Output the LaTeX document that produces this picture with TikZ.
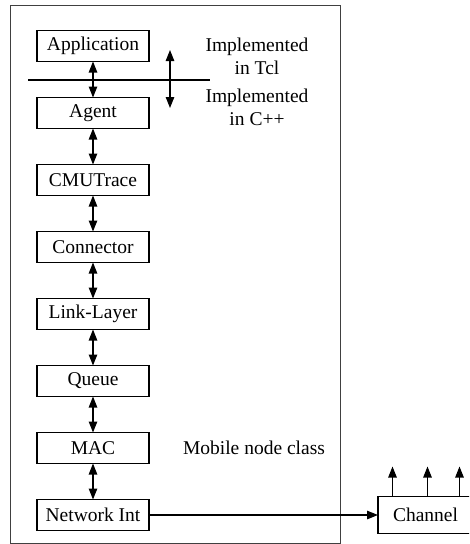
\documentclass[tikz,border=0pt]{standalone}
\usepackage{fontspec}
\setmainfont{Liberation Serif}
\usetikzlibrary{positioning,chains,arrows.meta}

\begin{document}
\begin{tikzpicture}[
	x=1pt, y=-1pt,
	node distance=36pt and 229pt,
	start chain=going below,
	box/.style = {
		draw, rectangle, align=center, minimum width=112pt,
		minimum height=31pt, line width=1.1pt,
		font=\fontsize{19.5}{23}\selectfont, inner sep=0pt, outer sep=0pt},
	mynode/.style = {box, on chain},
	chanbox/.style = {box, minimum width=95pt, minimum height=37pt},
	mytext/.style = {align=center, font=\fontsize{19.5}{23}\selectfont},
	frame/.style = {draw=black!75, line width=1pt},
	every join/.style = dblarrow,
	arrow/.style = {line width=1.1pt, -{Triangle[length=11pt,width=8.5pt]}},
	dblarrow/.style = {line width=1.1pt,
		{Triangle[length=11pt,width=8.5pt]}-{Triangle[length=11pt,width=8.5pt]}}
]
\useasboundingbox (0,0) rectangle (469,544);
\clip (0,0) rectangle (469,544);
\fill[white] (0,0) rectangle (469,544);

\draw[frame] (10,5) rectangle (340,543);

\node (n1) [mynode] at (93,46) {Application};
\node (n2) [mynode,join] {Agent};
\node (n3) [mynode,join] {CMUTrace};
\node (n4) [mynode,join] {Connector};
\node (n5) [mynode,join] {Link-Layer};
\node (n6) [mynode,join] {Queue};
\node (n7) [mynode,join] {MAC};
\node (n8) [mynode,join] {Network Int};

\node (chan) [chanbox, right=of n8] {Channel};

%\node[mytext] {Tcl / C++ split};
\coordinate (mc) at (254,0);
\node (tcl) [mytext] at (257,56)  {Implemented\\in Tcl};
\node (cpp) [mytext] at (257,107) {Implemented\\in C++};
\node (mob) [mytext] at (mc |- n7) {Mobile node class};

\coordinate (d1) at (28,80);
\coordinate (d2) at (210,80);
\coordinate (s1) at (170,50);
\coordinate (s2) at (170,108);

\draw[line width=1.1pt] (d1) -- (d2);
\draw[dblarrow] (s1) -- (s2);
\draw[arrow] (n8) -- (chan);
\foreach \dx in {-33,2,34}
	\draw[arrow] ([xshift=\dx pt]chan.north) -- ++(0,-30);
\end{tikzpicture}
\end{document}
